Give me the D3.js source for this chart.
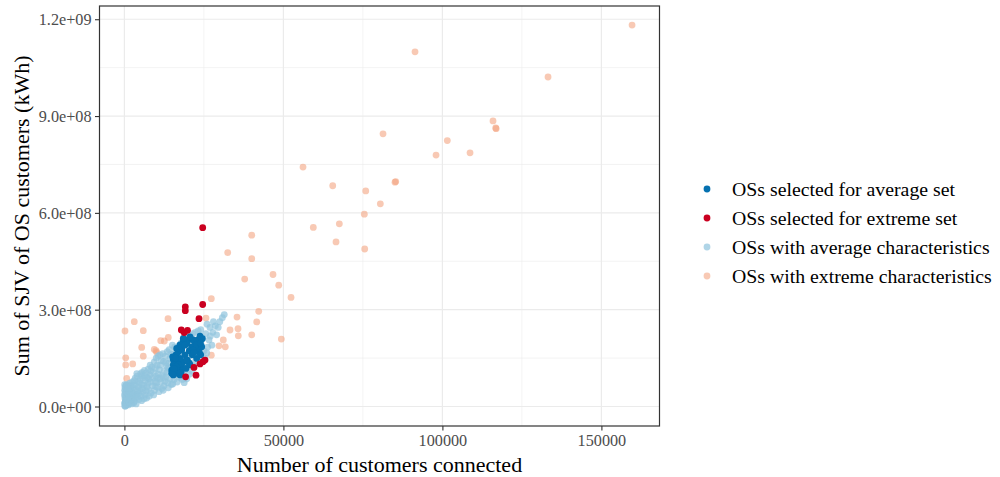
<!DOCTYPE html>
<html>
<head>
<meta charset="utf-8">
<script src="https://cdn.jsdelivr.net/npm/d3@7"></script>
<style>
  html, body { margin: 0; padding: 0; background: #ffffff; }
  svg { display: block; }
  text { font-family: "Liberation Serif", "Times New Roman", Times, serif; }
</style>
</head>
<body>
<svg id="chart" width="1000" height="477"></svg>
<script>
// ---- axis ticks ----
const xTicks = [0, 50000, 100000, 150000];
const xTickLabels = ["0", "50000", "100000", "150000"];
const xMinorTicks = [25000, 75000, 125000];
const yTicks = [0, 3e8, 6e8, 9e8, 1.2e9];
const yTickLabels = ["0.0e+00", "3.0e+08", "6.0e+08", "9.0e+08", "1.2e+09"];
const yMinorTicks = [1.5e8, 4.5e8, 7.5e8, 1.05e9];

const xTitle = "Number of customers connected";
const yTitle = "Sum of SJV of OS customers (kWh)";

// ---- legend entries ----
const seriesNames = [
  "OSs selected for average set",
  "OSs selected for extreme set",
  "OSs with average characteristics",
  "OSs with extreme characteristics"
];

// ---- points: [customers connected, summed SJV in kWh] ----
const extremeChars = [
  [159640, 1.182e9], [133220, 1.021e9], [91390, 1.099e9], [115920, 8.85e8],
  [116770, 8.63e8], [116900, 8.61e8], [101550, 8.24e8], [98000, 7.79e8],
  [108690, 7.86e8], [81330, 8.45e8], [85320, 6.97e8], [85100, 6.95e8],
  [56170, 7.42e8], [65510, 6.84e8], [75890, 6.68e8], [80480, 6.28e8],
  [75450, 5.96e8], [67590, 5.66e8], [59410, 5.55e8], [66550, 5.10e8],
  [75570, 4.88e8], [40040, 5.31e8], [32490, 4.77e8], [40040, 4.58e8],
  [37830, 3.95e8], [46730, 4.09e8], [48530, 3.76e8], [52400, 3.38e8],
  [27330, 3.34e8], [42240, 2.95e8], [35410, 2.77e8], [41610, 2.62e8],
  [33210, 2.37e8], [35730, 2.41e8], [35820, 2.19e8], [40040, 2.22e8],
  [49350, 2.09e8], [31100, 2.06e8], [31730, 1.85e8], [29750, 1.88e8],
  [27330, 1.59e8], [25660, 2.74e8], [13710, 2.72e8], [12550, 2.03e8],
  [13810, 2.14e8], [11420, 2.04e8], [9940, 1.73e8], [10160, 1.68e8],
  [9400, 1.77e8], [5440, 1.83e8], [5940, 1.56e8], [3110, 2.63e8],
  [190, 2.34e8], [5940, 2.35e8], [410, 1.51e8], [410, 1.29e8],
  [2610, 1.32e8], [720, 8.7e7]
];

const averageChars = [
  [120, 2e6], [300, 8e6], [450, 1.5e7], [200, 2.5e7], [600, 3.2e7], [150, 4.0e7],
  [800, 4.8e7], [350, 5.6e7], [500, 6.5e7], [900, 1.2e7], [700, 2.2e7], [1000, 3.8e7],
  [250, 4.5e5], [650, 5e6], [100, 6.8e7], [400, 3e7], [850, 6e7], [550, 1.9e7],
  [950, 2.9e7], [50, 1.0e7], [80, 5.0e7], [300, 1.8e7], [750, 4.2e7], [180, 6.0e7],
  [60, 3.4e7], [420, 4.6e7], [700, 6.8e7], [220, 1.3e7], [520, 3.8e6], [880, 2.4e7],
  [1200, 5e6], [1500, 1.4e7], [1800, 2.4e7], [2100, 3.4e7], [2400, 4.6e7], [2700, 5.8e7],
  [1300, 6.6e7], [1700, 7.2e7], [2900, 1.1e7], [2200, 1.8e7], [2600, 2.8e7], [1100, 4.0e7],
  [1900, 5.2e7], [2500, 7.6e7], [3000, 4.0e7], [1400, 3.0e7], [2800, 6.6e7], [1600, 9e6],
  [1250, 2.2e7], [2000, 6.2e7], [2300, 8e6], [1550, 4.6e7], [2750, 3.6e7], [1050, 5.6e7],
  [3200, 1.6e7], [3500, 2.6e7], [3800, 3.6e7], [4100, 4.8e7], [4400, 6.0e7], [4700, 7.2e7],
  [5000, 8.4e7], [5300, 9.6e7], [5600, 1.06e8], [3400, 8.8e7], [4000, 9.4e7], [4600, 2.2e7],
  [5200, 3.2e7], [5800, 4.4e7], [3600, 5.4e7], [4300, 7.8e7], [5500, 6.6e7], [3900, 1.02e8],
  [4900, 5.0e7], [5900, 8.8e7], [3300, 6.8e7], [5400, 1.8e7], [3700, 8.0e6], [4500, 4.0e7],
  [5100, 1.02e8], [3100, 8.0e7], [4200, 3.0e7], [5700, 5.6e7],
  [6200, 2.4e7], [6500, 3.6e7], [6800, 4.8e7], [7100, 6.0e7], [7400, 7.2e7], [7700, 8.6e7],
  [8000, 9.8e7], [8300, 1.1e8], [8600, 1.22e8], [6300, 1.12e8], [6900, 1.04e8], [7500, 1.16e8],
  [8100, 1.28e8], [6600, 8.0e7], [7200, 9.0e7], [8800, 6.4e7], [8400, 4.2e7], [7800, 3.2e7],
  [6100, 6.6e7], [8900, 8.8e7], [7000, 2.6e7], [8200, 7.6e7], [6400, 9.6e7], [7600, 5.2e7],
  [9200, 3.6e7], [9500, 5.0e7], [9800, 6.2e7], [10100, 7.4e7], [10400, 8.8e7], [10700, 1.0e8],
  [11000, 1.14e8], [11300, 1.28e8], [11600, 1.42e8], [9400, 1.38e8], [10000, 1.5e8], [10600, 1.56e8],
  [11200, 1.6e8], [9700, 1.18e8], [10300, 1.28e8], [11800, 5.6e7], [11500, 7.6e7], [10900, 4.6e7],
  [9900, 9.4e7], [11900, 9.6e7], [9100, 1.06e8], [10500, 6.0e7], [11100, 8.6e7], [9600, 7.8e7],
  [12200, 5.0e7], [12500, 6.4e7], [12800, 7.8e7], [13100, 9.2e7], [13400, 1.06e8], [13700, 1.2e8],
  [14000, 1.34e8], [14300, 1.48e8], [14600, 1.62e8], [12300, 1.4e8], [12900, 1.56e8], [13500, 1.7e8],
  [14100, 1.76e8], [12600, 1.1e8], [13200, 1.26e8], [14800, 6.8e7], [14400, 8.6e7], [13800, 5.8e7],
  [12100, 1.64e8], [14900, 1.06e8], [12400, 9.0e7], [13600, 7.4e7], [14200, 1.2e8], [13000, 1.36e8],
  [15200, 7.0e7], [15600, 8.4e7], [16000, 9.8e7], [16400, 1.12e8], [16800, 1.26e8], [17200, 1.4e8],
  [17600, 1.54e8], [15400, 1.62e8], [16200, 1.76e8], [17000, 1.86e8], [17800, 1.96e8], [15800, 1.84e8],
  [16600, 7.6e7], [17400, 9.0e7], [15100, 1.9e8], [17900, 1.1e8],
  [18200, 8.4e7], [18600, 9.8e7], [19000, 1.12e8], [19400, 1.26e8], [19800, 1.4e8], [20200, 1.54e8],
  [20600, 1.68e8], [18400, 2.02e8], [19200, 2.1e8], [20000, 2.16e8], [20800, 2.2e8], [18800, 7.4e7],
  [19600, 8.6e7], [20400, 1.0e8],
  [21200, 1.1e8], [21800, 1.26e8], [22400, 1.42e8], [23000, 1.58e8], [23600, 1.74e8], [24200, 1.9e8],
  [21500, 2.26e8], [22300, 2.3e8], [23200, 2.34e8], [24000, 2.38e8], [22800, 2.06e8], [24600, 2.12e8],
  [21000, 1.86e8],
  [25300, 1.5e8], [25900, 1.66e8], [26600, 2.06e8], [26900, 2.45e8], [28000, 2.63e8], [29500, 2.45e8],
  [30000, 2.63e8], [31400, 2.85e8], [29000, 2.22e8], [27500, 1.9e8], [26200, 1.84e8], [27800, 2.3e8],
  [25600, 2.26e8], [28600, 2.5e8], [26000, 2.55e8], [30800, 2.75e8], [25000, 1.72e8], [27000, 2.18e8]
];

const selectedAverage = [
  [23780, 2.18e8], [23240, 2.06e8], [22200, 2.01e8], [21170, 1.85e8], [20410, 1.73e8],
  [21670, 1.75e8], [22930, 1.80e8], [23560, 1.67e8], [24000, 1.60e8], [22740, 1.49e8],
  [21350, 1.60e8], [20100, 2.06e8], [19590, 1.96e8], [18520, 2.01e8], [17490, 1.91e8],
  [18020, 1.75e8], [16950, 1.70e8], [16230, 1.60e8], [15380, 1.46e8], [16450, 1.39e8],
  [15380, 1.29e8], [14880, 1.13e8], [15910, 1.03e8], [16950, 1.11e8], [18020, 1.23e8],
  [18520, 1.39e8], [17490, 1.49e8], [19060, 1.60e8], [19780, 1.44e8], [20410, 1.34e8],
  [19370, 1.18e8], [17490, 9.8e7], [15380, 9.8e7], [21670, 2.06e8], [22740, 1.91e8],
  [24310, 1.85e8], [20630, 2.16e8], [18520, 2.11e8], [16450, 1.80e8], [15910, 1.23e8],
  [16950, 1.29e8], [18020, 1.83e8], [15190, 1.54e8], [14880, 1.03e8], [20630, 1.29e8],
  [19590, 1.44e8], [16450, 1.23e8], [24500, 2.10e8], [19000, 1.90e8], [17800, 1.06e8],
  [15600, 1.18e8], [21900, 1.68e8], [23900, 1.96e8], [16100, 1.50e8]
];

const selectedExtreme = [
  [24620, 5.54e8], [19150, 3.09e8], [19150, 2.97e8], [24620, 3.16e8], [23460, 2.72e8],
  [17900, 2.37e8], [19840, 2.36e8], [18810, 2.29e8], [24720, 1.39e8], [23780, 1.32e8],
  [25350, 1.44e8], [21890, 1.21e8], [19250, 9.2e7], [22520, 9.7e7]
];

// ---- layout ----
const svg = d3.select("#chart");
const panel = { left: 99.5, right: 659.5, top: 6, bottom: 426 };

const x = d3.scaleLinear().domain([-7830, 168270]).range([panel.left, panel.right]);
const y = d3.scaleLinear().domain([-6.04e7, 1.241e9]).range([panel.bottom, panel.top]);

const colors = ["#0571B0", "#CA0020", "#92C5DE", "#F4A582"];
const alphas = [1, 1, 0.72, 0.6];
const radius = 3.4;

// panel grid
const grid = svg.append("g");
grid.selectAll("line.xminor").data(xMinorTicks).join("line")
  .attr("x1", d => x(d)).attr("x2", d => x(d))
  .attr("y1", panel.top).attr("y2", panel.bottom)
  .attr("stroke", "#EBEBEB").attr("stroke-width", 0.6);
grid.selectAll("line.yminor").data(yMinorTicks).join("line")
  .attr("x1", panel.left).attr("x2", panel.right)
  .attr("y1", d => y(d)).attr("y2", d => y(d))
  .attr("stroke", "#EBEBEB").attr("stroke-width", 0.6);
grid.selectAll("line.xmajor").data(xTicks).join("line")
  .attr("x1", d => x(d)).attr("x2", d => x(d))
  .attr("y1", panel.top).attr("y2", panel.bottom)
  .attr("stroke", "#EBEBEB").attr("stroke-width", 1.2);
grid.selectAll("line.ymajor").data(yTicks).join("line")
  .attr("x1", panel.left).attr("x2", panel.right)
  .attr("y1", d => y(d)).attr("y2", d => y(d))
  .attr("stroke", "#EBEBEB").attr("stroke-width", 1.2);

// points, background groups first
const layers = [
  { data: extremeChars, k: 3 },
  { data: averageChars, k: 2 },
  { data: selectedAverage, k: 0 },
  { data: selectedExtreme, k: 1 }
];
const pts = svg.append("g");
layers.forEach(layer => {
  pts.append("g").selectAll("circle").data(layer.data).join("circle")
    .attr("cx", d => x(d[0]))
    .attr("cy", d => y(d[1]))
    .attr("r", radius)
    .attr("fill", colors[layer.k])
    .attr("fill-opacity", alphas[layer.k]);
});

// panel border
svg.append("rect")
  .attr("x", panel.left).attr("y", panel.top)
  .attr("width", panel.right - panel.left).attr("height", panel.bottom - panel.top)
  .attr("fill", "none").attr("stroke", "#333333").attr("stroke-width", 1.2);

// axes
const xAxis = svg.append("g")
  .attr("transform", `translate(0,${panel.bottom})`)
  .call(d3.axisBottom(x).tickValues(xTicks).tickSize(4.5).tickSizeOuter(0)
    .tickFormat((d, i) => xTickLabels[i]));
const yAxis = svg.append("g")
  .attr("transform", `translate(${panel.left},0)`)
  .call(d3.axisLeft(y).tickValues(yTicks).tickSize(4.5).tickSizeOuter(0)
    .tickFormat((d, i) => yTickLabels[i]));

[xAxis, yAxis].forEach(ax => {
  ax.attr("font-family", null).attr("font-size", null);
  ax.select(".domain").remove();
  ax.selectAll(".tick line").attr("stroke", "#333333").attr("stroke-width", 1.1);
  ax.selectAll(".tick text")
    .attr("fill", "#4D4D4D")
    .style("font-family", '"Liberation Serif", "Times New Roman", serif')
    .style("font-size", "16.2px");
});
xAxis.selectAll(".tick text").attr("y", 8).attr("dy", "0.71em");
yAxis.selectAll(".tick text").attr("x", -8).attr("dy", "0.34em");

// axis titles
svg.append("text")
  .attr("x", (panel.left + panel.right) / 2).attr("y", 472)
  .attr("text-anchor", "middle")
  .style("font-size", "22px").attr("fill", "#000")
  .text(xTitle);
svg.append("text")
  .attr("transform", `translate(29,${(panel.top + panel.bottom) / 2}) rotate(-90)`)
  .attr("text-anchor", "middle")
  .style("font-size", "22px").attr("fill", "#000")
  .text(yTitle);

// legend
const legendOrder = [0, 1, 2, 3];
const legend = svg.append("g").attr("transform", "translate(707,189)");
const rows = legend.selectAll("g").data(legendOrder).join("g")
  .attr("transform", (d, i) => `translate(0,${i * 29})`);
rows.append("circle")
  .attr("r", radius)
  .attr("fill", d => colors[d])
  .attr("fill-opacity", d => alphas[d]);
rows.append("text")
  .attr("x", 25).attr("dy", "0.34em")
  .style("font-size", "19.8px").attr("fill", "#000")
  .text(d => seriesNames[d]);
</script>
</body>
</html>
